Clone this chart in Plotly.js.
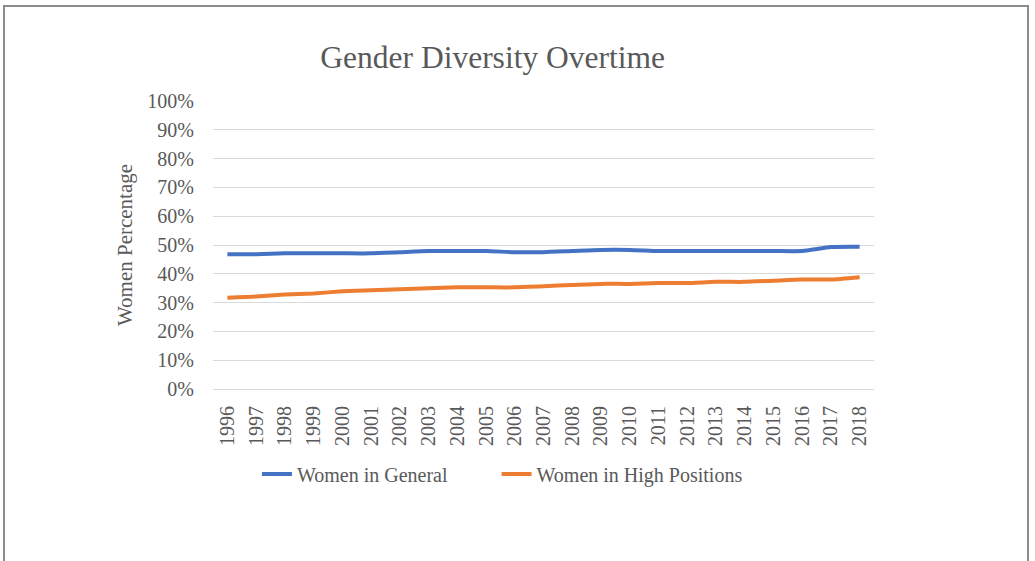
<!DOCTYPE html>
<html>
<head>
<meta charset="utf-8">
<script src="https://cdn.plot.ly/plotly-3.0.1.min.js"></script>
<style>
  html, body { margin: 0; padding: 0; background: #fff; }
  #chart { width: 1035px; height: 561px; }
  #frame { position: absolute; left: 3px; top: 5px; width: 1026px; height: 600px;
           border: 2px solid #8c8c8c; pointer-events: none; box-sizing: border-box; }
</style>
</head>
<body>
<div id="chart"></div>
<div id="frame"></div>
<script>
const years = ["1996","1997","1998","1999","2000","2001","2002","2003","2004","2005","2006","2007","2008","2009","2010","2011","2012","2013","2014","2015","2016","2017","2018"];
const womenGeneral = [0.468,0.468,0.471,0.471,0.471,0.471,0.475,0.479,0.479,0.479,0.475,0.475,0.479,0.483,0.483,0.479,0.479,0.479,0.479,0.479,0.479,0.493,0.494];
const womenHigh = [0.317,0.321,0.328,0.332,0.339,0.343,0.346,0.350,0.353,0.353,0.353,0.357,0.361,0.365,0.365,0.368,0.368,0.372,0.372,0.376,0.380,0.380,0.388];
const seriesNames = ["Women in General", "Women in High Positions"];

const font = "'Liberation Serif', 'Times New Roman', serif";
const traces = [
  { x: years, y: womenGeneral, name: seriesNames[0], type: "scatter", mode: "lines", legend: "legend",
    line: { color: "#4472C4", width: 4, shape: "spline", smoothing: 0.5 } },
  { x: years, y: womenHigh, name: seriesNames[1], type: "scatter", mode: "lines", legend: "legend2",
    line: { color: "#ED7D31", width: 4, shape: "spline", smoothing: 0.5 } }
];

const legendFont = { family: font, size: 20, color: "#595959" };
const layout = {
  width: 1035, height: 561,
  margin: { l: 213, r: 161, t: 101, b: 172 },
  paper_bgcolor: "#fff", plot_bgcolor: "#fff",
  font: { family: font, color: "#595959", size: 20 },
  title: { text: "Gender Diversity Overtime", font: { family: font, size: 31.5, color: "#595959" },
           x: 0.476, xanchor: "center", y: 0.898, yanchor: "middle", xref: "container", yref: "container" },
  xaxis: { type: "category", range: [-0.5, 22.5], tickangle: -90, showgrid: false,
           showline: true, linecolor: "#d9d9d9", linewidth: 1, ticks: "outside", ticklen: 8,
           tickcolor: "rgba(0,0,0,0)", tickfont: { family: font, size: 20, color: "#595959" }, fixedrange: true },
  yaxis: { range: [0, 1], dtick: 0.1, tickformat: ".0%", showgrid: true, gridcolor: "#d9d9d9", gridwidth: 1,
           zeroline: false, showline: false, ticks: "outside", ticklen: 14, tickcolor: "rgba(0,0,0,0)",
           tickfont: { family: font, size: 20, color: "#595959" },
           title: { text: "Women Percentage", font: { family: font, size: 21, color: "#595959" }, standoff: 8 } },
  legend: { orientation: "h", x: 0.0665, xanchor: "left", y: -0.295, yanchor: "middle",
            font: legendFont, bgcolor: "rgba(0,0,0,0)" },
  legend2: { orientation: "h", x: 0.429, xanchor: "left", y: -0.295, yanchor: "middle",
            font: legendFont, bgcolor: "rgba(0,0,0,0)" },
  showlegend: true
};

Plotly.newPlot("chart", traces, layout, { displayModeBar: false, staticPlot: true });
</script>
</body>
</html>
